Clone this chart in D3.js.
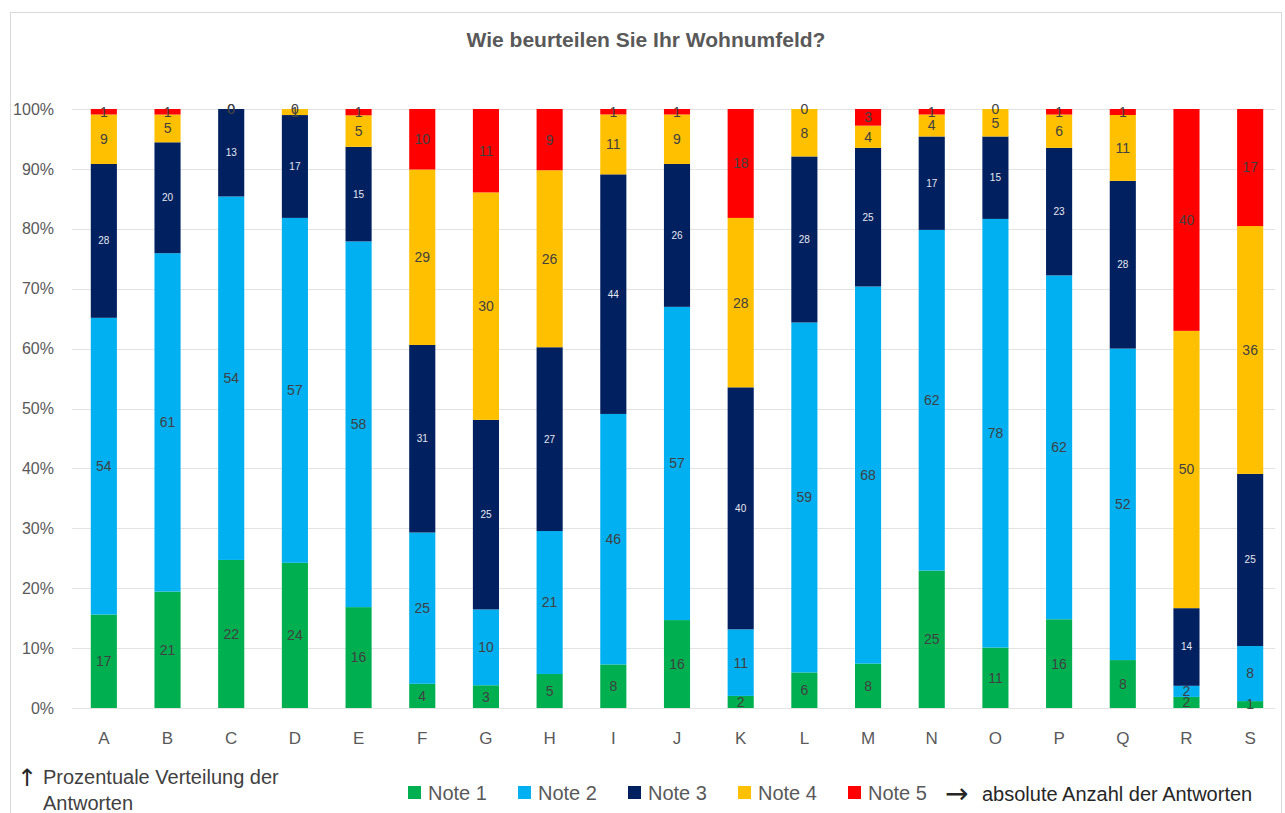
<!DOCTYPE html>
<html>
<head>
<meta charset="utf-8">
<script src="https://cdn.jsdelivr.net/npm/d3@7"></script>
<style>
  body { margin: 0; background: #fff; }
  svg { font-family: "Liberation Sans", Arial, sans-serif; }
</style>
</head>
<body>
<svg id="chart" width="1285" height="813"></svg>
<script>
// Wie beurteilen Sie Ihr Wohnumfeld? — stacked 100% bars

// Data (absolute counts per grade)
const categories = ["A","B","C","D","E","F","G","H","I","J","K","L","M","N","O","P","Q","R","S"];
const note1 = [17, 21, 22, 24, 16,  4,  3,  5,  8, 16,  2,  6,  8, 25, 11, 16,  8,  2,  1];
const note2 = [54, 61, 54, 57, 58, 25, 10, 21, 46, 57, 11, 59, 68, 62, 78, 62, 52,  2,  8];
const note3 = [28, 20, 13, 17, 15, 31, 25, 27, 44, 26, 40, 28, 25, 17, 15, 23, 28, 14, 25];
const note4 = [ 9,  5,  0,  1,  5, 29, 30, 26, 11,  9, 28,  8,  4,  4,  5,  6, 11, 50, 36];
const note5 = [ 1,  1,  0,  0,  1, 10, 11,  9,  1,  1, 18,  0,  3,  1,  0,  1,  1, 40, 17];
const seriesNames = ["Note 1", "Note 2", "Note 3", "Note 4", "Note 5"];
const colors = ["#00B050", "#00B0F0", "#002060", "#FFC000", "#FF0000"];
const yTicks = [0, 0.1, 0.2, 0.3, 0.4, 0.5, 0.6, 0.7, 0.8, 0.9, 1];

const svg = d3.select("#chart");

// outer chart frame
svg.append("rect")
    .attr("x", 10.5).attr("y", 12.5)
    .attr("width", 1271).attr("height", 830)
    .attr("fill", "none").attr("stroke", "#d9d9d9");

const table = categories.map((c, i) => ({
    cat: c, "Note 1": note1[i], "Note 2": note2[i], "Note 3": note3[i], "Note 4": note4[i], "Note 5": note5[i]
}));

const stack = d3.stack().keys(seriesNames).offset(d3.stackOffsetExpand);
const stacked = stack(table);

const x = d3.scaleBand().domain(categories).range([72, 1282]).paddingInner(0.59).paddingOuter(0.295);
const y = d3.scaleLinear().domain([0, 1]).range([708, 109]);

// gridlines
svg.append("g")
    .selectAll("line")
    .data(yTicks)
    .join("line")
    .attr("x1", 72).attr("x2", 1275)
    .attr("y1", d => Math.round(y(d)) + 0.5)
    .attr("y2", d => Math.round(y(d)) + 0.5)
    .attr("stroke", "#e3e3e3");

// y axis labels
svg.append("g")
    .selectAll("text")
    .data(yTicks)
    .join("text")
    .attr("x", 54)
    .attr("y", d => y(d))
    .attr("dy", "0.35em")
    .attr("text-anchor", "end")
    .attr("font-size", 16)
    .attr("fill", "#595959")
    .text(d3.format(".0%"));

// x axis labels
svg.append("g")
    .selectAll("text")
    .data(categories)
    .join("text")
    .attr("x", d => x(d) + x.bandwidth() / 2)
    .attr("y", 744)
    .attr("text-anchor", "middle")
    .attr("font-size", 17)
    .attr("fill", "#595959")
    .text(d => d);

// bars
const layers = svg.append("g")
    .selectAll("g")
    .data(stacked)
    .join("g")
    .attr("fill", (d, i) => colors[i]);

layers.selectAll("rect")
    .data(d => d)
    .join("rect")
    .attr("x", d => x(d.data.cat))
    .attr("width", x.bandwidth())
    .attr("y", d => y(d[1]))
    .attr("height", d => y(d[0]) - y(d[1]));

// value labels
stacked.forEach((layer, i) => {
    const navy = i === 2;
    svg.append("g")
        .selectAll("text")
        .data(layer)
        .join("text")
        .attr("x", d => x(d.data.cat) + x.bandwidth() / 2)
        .attr("y", d => y((d[0] + d[1]) / 2))
        .attr("dy", "0.35em")
        .attr("text-anchor", "middle")
        .attr("font-size", navy ? 10 : 14)
        .attr("fill", navy ? "#e8e8f0" : "#404040")
        .text(d => d.data[layer.key]);
});

// title
svg.append("text")
    .attr("x", 646).attr("y", 47)
    .attr("text-anchor", "middle")
    .attr("font-size", 21)
    .attr("font-weight", "bold")
    .attr("fill", "#595959")
    .text("Wie beurteilen Sie Ihr Wohnumfeld?");

// legend
const legend = svg.append("g");
seriesNames.forEach((name, i) => {
    const lx = 408 + i * 110;
    legend.append("rect")
        .attr("x", lx).attr("y", 786)
        .attr("width", 13).attr("height", 13)
        .attr("fill", colors[i]);
    legend.append("text")
        .attr("x", lx + 20).attr("y", 800)
        .attr("font-size", 20)
        .attr("fill", "#595959")
        .text(name);
});

// notes
svg.append("text")
    .attr("x", 17).attr("y", 786)
    .attr("font-family", "DejaVu Sans")
    .attr("font-size", 24)
    .attr("fill", "#262626")
    .text("↑");
svg.append("text")
    .attr("x", 43).attr("y", 784)
    .attr("font-size", 20)
    .attr("fill", "#404040")
    .text("Prozentuale Verteilung der");
svg.append("text")
    .attr("x", 43).attr("y", 810)
    .attr("font-size", 20)
    .attr("fill", "#404040")
    .text("Antworten");
svg.append("text")
    .attr("x", 945).attr("y", 803)
    .attr("font-family", "DejaVu Sans")
    .attr("font-size", 28)
    .attr("fill", "#262626")
    .text("→");
svg.append("text")
    .attr("x", 982).attr("y", 801)
    .attr("font-size", 20)
    .attr("fill", "#262626")
    .text("absolute Anzahl der Antworten");
</script>
</body>
</html>
